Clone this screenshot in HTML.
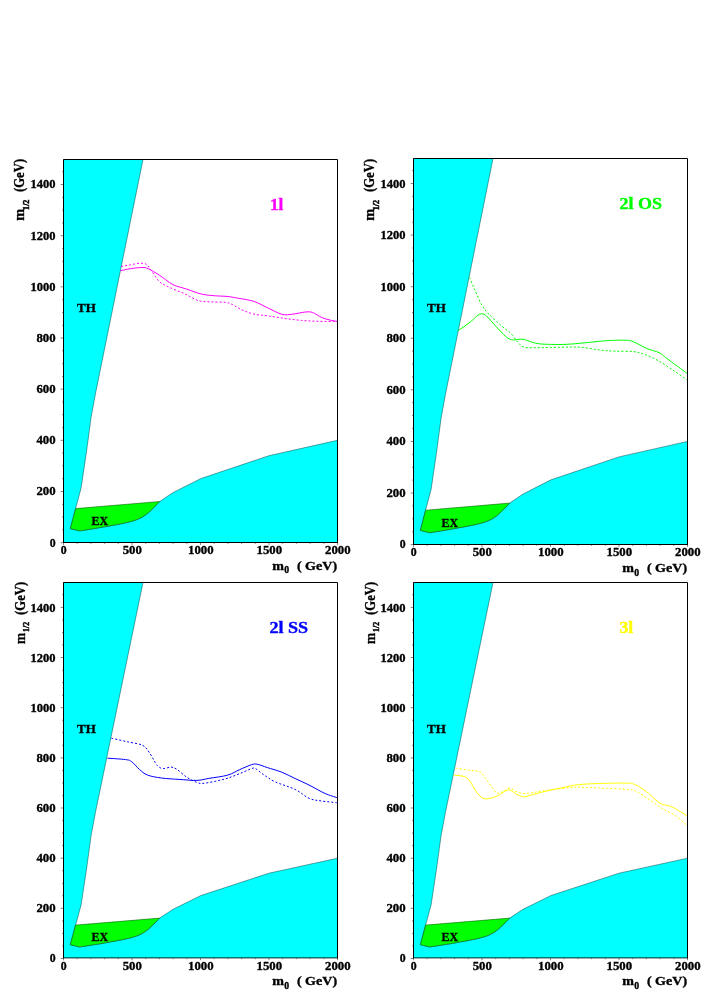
<!DOCTYPE html>
<html><head><meta charset="utf-8"><title>Figure</title>
<style>html,body{margin:0;padding:0;background:#fff;}body{width:707px;height:1007px;overflow:hidden;font-family:"Liberation Serif",serif;}svg{display:block;will-change:transform;}</style>
</head><body>
<svg width="707" height="1007" viewBox="0 0 707 1007">
<rect width="707" height="1007" fill="#fff"/>
<g>
<polygon points="63.5,542.5 63.5,159.5 143.0,159.5 95.4,393.9 91.0,417.8 86.7,450.2 81.1,488.0 75.6,508.6 70.3,528.6 79.7,530.9 82.4,530.5 86.0,529.9 90.4,529.2 95.2,528.4 100.0,527.6 104.6,526.8 109.2,526.0 114.0,525.1 119.0,524.2 123.8,523.2 128.2,522.2 132.0,521.2 135.1,520.2 137.7,519.3 139.9,518.3 141.9,517.3 143.9,516.0 146.1,514.5 148.6,512.6 151.2,510.2 153.8,507.6 156.2,505.1 158.2,503.0 159.7,501.5 173.1,492.5 201.0,478.5 269.0,455.7 337.5,440.3 337.5,542.5" fill="#00ffff" stroke="#044" stroke-width="0.5"/>
<polygon points="75.6,508.6 159.7,501.5 158.2,503.0 156.2,505.1 153.8,507.6 151.2,510.2 148.6,512.6 146.1,514.5 143.9,516.0 141.9,517.3 139.9,518.3 137.7,519.3 135.1,520.2 132.0,521.2 128.2,522.2 123.8,523.2 119.0,524.2 114.0,525.1 109.2,526.0 104.6,526.8 100.0,527.6 95.2,528.4 90.4,529.2 86.0,529.9 82.4,530.5 79.7,530.9 70.3,528.6" fill="#00ff00" stroke="#040" stroke-width="0.5"/>
<path d="M120.5 270.7 C122.2 270.4 126.8 269.2 130.4 268.7 C134.0 268.2 139.2 267.5 142.2 267.5 C145.2 267.5 145.4 267.4 148.2 268.7 C151.0 270.0 155.1 272.5 159.2 275.1 C163.3 277.7 168.3 282.2 172.8 284.5 C177.3 286.8 181.6 287.4 186.4 289.0 C191.2 290.6 196.8 293.0 201.6 294.1 C206.4 295.2 211.0 295.4 215.2 295.8 C219.4 296.2 223.1 296.0 227.0 296.4 C230.9 296.8 234.1 297.5 238.6 298.3 C243.1 299.1 249.1 299.8 253.9 301.4 C258.7 303.0 262.7 305.5 267.4 307.7 C272.1 309.9 277.6 313.2 281.9 314.3 C286.1 315.4 289.1 314.5 292.9 314.1 C296.7 313.7 301.6 312.4 304.8 312.1 C308.1 311.8 309.6 311.5 312.4 312.4 C315.2 313.3 318.7 316.2 321.7 317.5 C324.7 318.8 327.6 319.5 330.2 320.1 C332.8 320.8 336.2 321.2 337.4 321.4" fill="none" stroke="#ff00ff" stroke-width="1"/>
<path d="M121.2 266.5 C122.7 266.2 127.2 265.4 130.4 264.8 C133.6 264.2 137.8 263.3 140.5 263.2 C143.2 263.1 144.8 263.3 146.5 264.4 C148.2 265.4 148.6 266.7 150.7 269.5 C152.8 272.3 156.1 278.4 159.2 281.4 C162.3 284.4 165.2 285.2 169.4 287.3 C173.7 289.4 179.9 291.6 184.7 293.8 C189.5 296.0 193.8 299.2 198.3 300.6 C202.8 302.0 207.4 301.6 211.8 301.9 C216.2 302.2 221.7 301.9 225.0 302.3 C228.3 302.7 229.0 303.0 231.8 304.3 C234.6 305.6 238.3 308.3 242.0 309.9 C245.7 311.5 249.7 313.1 253.9 314.1 C258.1 315.1 262.3 315.1 267.4 315.8 C272.5 316.5 278.7 317.6 284.4 318.4 C290.1 319.2 295.8 319.9 301.4 320.4 C307.0 320.9 312.3 321.1 318.3 321.3 C324.3 321.5 334.2 321.3 337.4 321.3" fill="none" stroke="#ff00ff" stroke-width="1" stroke-dasharray="2 2"/>
<path d="M60.7 542.7 h2.4 M62.1 529.9 h1.0 M62.1 517.1 h1.0 M62.1 504.3 h1.0 M60.7 491.5 h2.4 M62.1 478.7 h1.0 M62.1 465.9 h1.0 M62.1 453.1 h1.0 M60.7 440.3 h2.4 M62.1 427.5 h1.0 M62.1 414.7 h1.0 M62.1 402.0 h1.0 M60.7 389.2 h2.4 M62.1 376.4 h1.0 M62.1 363.6 h1.0 M62.1 350.8 h1.0 M60.7 338.0 h2.4 M62.1 325.2 h1.0 M62.1 312.4 h1.0 M62.1 299.6 h1.0 M60.7 286.8 h2.4 M62.1 274.0 h1.0 M62.1 261.2 h1.0 M62.1 248.4 h1.0 M60.7 235.7 h2.4 M62.1 222.9 h1.0 M62.1 210.1 h1.0 M62.1 197.3 h1.0 M60.7 184.5 h2.4 M62.1 171.7 h1.0 M63.5 542.9 v2.0 M77.2 542.9 v1.0 M90.9 542.9 v1.0 M104.6 542.9 v1.0 M118.3 542.9 v1.0 M132.0 542.9 v2.0 M145.7 542.9 v1.0 M159.4 542.9 v1.0 M173.1 542.9 v1.0 M186.8 542.9 v1.0 M200.5 542.9 v2.0 M214.2 542.9 v1.0 M227.9 542.9 v1.0 M241.6 542.9 v1.0 M255.3 542.9 v1.0 M269.0 542.9 v2.0 M282.7 542.9 v1.0 M296.4 542.9 v1.0 M310.1 542.9 v1.0 M323.8 542.9 v1.0 M337.5 542.9 v2.0" stroke="#333" stroke-width="0.6" fill="none"/>
<path d="M63.5 542.50 V159.50 H337.5 V542.50" fill="none" stroke="#000" stroke-width="1" stroke-linecap="square"/>
<path d="M63.0 542.50 H338.0" fill="none" stroke="#000" stroke-width="1.00"/>
<text x="55.6" y="546.5" font-family="Liberation Serif, serif" font-weight="bold" stroke="#000" stroke-width="0.35" paint-order="stroke" font-size="12.6" text-anchor="end" textLength="5.9" lengthAdjust="spacingAndGlyphs">0</text>
<text x="55.6" y="495.4" font-family="Liberation Serif, serif" font-weight="bold" stroke="#000" stroke-width="0.35" paint-order="stroke" font-size="12.6" text-anchor="end" textLength="19.2" lengthAdjust="spacingAndGlyphs">200</text>
<text x="55.6" y="444.2" font-family="Liberation Serif, serif" font-weight="bold" stroke="#000" stroke-width="0.35" paint-order="stroke" font-size="12.6" text-anchor="end" textLength="19.2" lengthAdjust="spacingAndGlyphs">400</text>
<text x="55.6" y="393.0" font-family="Liberation Serif, serif" font-weight="bold" stroke="#000" stroke-width="0.35" paint-order="stroke" font-size="12.6" text-anchor="end" textLength="19.2" lengthAdjust="spacingAndGlyphs">600</text>
<text x="55.6" y="341.9" font-family="Liberation Serif, serif" font-weight="bold" stroke="#000" stroke-width="0.35" paint-order="stroke" font-size="12.6" text-anchor="end" textLength="19.2" lengthAdjust="spacingAndGlyphs">800</text>
<text x="55.6" y="290.7" font-family="Liberation Serif, serif" font-weight="bold" stroke="#000" stroke-width="0.35" paint-order="stroke" font-size="12.6" text-anchor="end" textLength="25.0" lengthAdjust="spacingAndGlyphs">1000</text>
<text x="55.6" y="239.5" font-family="Liberation Serif, serif" font-weight="bold" stroke="#000" stroke-width="0.35" paint-order="stroke" font-size="12.6" text-anchor="end" textLength="25.0" lengthAdjust="spacingAndGlyphs">1200</text>
<text x="55.6" y="188.4" font-family="Liberation Serif, serif" font-weight="bold" stroke="#000" stroke-width="0.35" paint-order="stroke" font-size="12.6" text-anchor="end" textLength="25.0" lengthAdjust="spacingAndGlyphs">1400</text>
<text x="63.8" y="553.6" font-family="Liberation Serif, serif" font-weight="bold" stroke="#000" stroke-width="0.35" paint-order="stroke" font-size="12.6" text-anchor="middle" textLength="5.9" lengthAdjust="spacingAndGlyphs">0</text>
<text x="132.3" y="553.6" font-family="Liberation Serif, serif" font-weight="bold" stroke="#000" stroke-width="0.35" paint-order="stroke" font-size="12.6" text-anchor="middle" textLength="19.2" lengthAdjust="spacingAndGlyphs">500</text>
<text x="200.8" y="553.6" font-family="Liberation Serif, serif" font-weight="bold" stroke="#000" stroke-width="0.35" paint-order="stroke" font-size="12.6" text-anchor="middle" textLength="25.6" lengthAdjust="spacingAndGlyphs">1000</text>
<text x="269.3" y="553.6" font-family="Liberation Serif, serif" font-weight="bold" stroke="#000" stroke-width="0.35" paint-order="stroke" font-size="12.6" text-anchor="middle" textLength="25.6" lengthAdjust="spacingAndGlyphs">1500</text>
<text x="337.8" y="553.6" font-family="Liberation Serif, serif" font-weight="bold" stroke="#000" stroke-width="0.35" paint-order="stroke" font-size="12.6" text-anchor="middle" textLength="25.6" lengthAdjust="spacingAndGlyphs">2000</text>
<text x="272.2" y="569.7" font-family="Liberation Serif, serif" font-weight="bold" stroke="#000" stroke-width="0.35" paint-order="stroke" font-size="12.6" textLength="11.7" lengthAdjust="spacingAndGlyphs">m</text>
<text x="284.3" y="573.1" font-family="Liberation Serif, serif" font-weight="bold" stroke="#000" stroke-width="0.35" paint-order="stroke" font-size="9.4" textLength="4.9" lengthAdjust="spacingAndGlyphs">0</text>
<text x="337.1" y="569.7" font-family="Liberation Serif, serif" font-weight="bold" stroke="#000" stroke-width="0.35" paint-order="stroke" font-size="12.6" text-anchor="end" textLength="40.2" lengthAdjust="spacingAndGlyphs">( GeV)</text>
<g transform="translate(24.2 158.9) rotate(-90)">
<text x="-61.8" y="0" font-family="Liberation Serif, serif" font-weight="bold" stroke="#000" stroke-width="0.35" paint-order="stroke" font-size="15.2" textLength="12.0" lengthAdjust="spacingAndGlyphs">m</text>
<text x="-51.0" y="5.0" font-family="Liberation Serif, serif" font-weight="bold" stroke="#000" stroke-width="0.35" paint-order="stroke" font-size="8.3" style="stroke-width:0.45" textLength="10.3" lengthAdjust="spacingAndGlyphs">1/2</text>
<text x="0" y="0" font-family="Liberation Serif, serif" font-weight="bold" stroke="#000" stroke-width="0.35" paint-order="stroke" font-size="15.2" text-anchor="end" textLength="33.1" lengthAdjust="spacingAndGlyphs">(GeV)</text>
</g>
<text x="77.0" y="312.3" font-family="Liberation Serif, serif" font-weight="bold" stroke="#000" stroke-width="0.35" paint-order="stroke" font-size="12.6" textLength="18.8" lengthAdjust="spacingAndGlyphs">TH</text>
<text x="91.6" y="524.7" font-family="Liberation Serif, serif" font-weight="bold" stroke="#000" stroke-width="0.35" paint-order="stroke" font-size="12.6" textLength="16.6" lengthAdjust="spacingAndGlyphs">EX</text>
<text x="270.0" y="209.6" font-family="Liberation Serif, serif" font-weight="bold" stroke="#000" stroke-width="0.35" paint-order="stroke" font-size="17" fill="#ff00ff" style="stroke:#ff00ff" textLength="13.4" lengthAdjust="spacingAndGlyphs">1l</text>
</g>
<g>
<polygon points="413.5,544.5 413.5,158.5 493.0,158.5 445.4,394.6 441.0,418.7 436.7,451.3 431.1,489.4 425.6,510.2 420.4,530.4 429.7,532.7 432.4,532.3 436.0,531.7 440.4,531.0 445.2,530.2 450.0,529.4 454.6,528.6 459.2,527.7 464.0,526.9 469.0,525.9 473.8,524.9 478.2,523.9 482.0,522.9 485.1,521.9 487.7,521.0 489.9,520.0 491.9,519.0 493.9,517.7 496.1,516.2 498.6,514.2 501.2,511.8 503.8,509.2 506.2,506.7 508.2,504.6 509.7,503.1 523.1,494.0 551.0,479.8 619.0,456.9 687.5,441.4 687.5,544.5" fill="#00ffff" stroke="#044" stroke-width="0.5"/>
<polygon points="425.6,510.2 509.7,503.1 508.2,504.6 506.2,506.7 503.8,509.2 501.2,511.8 498.6,514.2 496.1,516.2 493.9,517.7 491.9,519.0 489.9,520.0 487.7,521.0 485.1,521.9 482.0,522.9 478.2,523.9 473.8,524.9 469.0,525.9 464.0,526.9 459.2,527.7 454.6,528.6 450.0,529.4 445.2,530.2 440.4,531.0 436.0,531.7 432.4,532.3 429.7,532.7 420.4,530.4" fill="#00ff00" stroke="#040" stroke-width="0.5"/>
<path d="M458.5 330.4 C460.5 329.0 467.1 324.4 470.4 321.9 C473.6 319.4 476.0 316.5 478.0 315.2 C480.0 313.9 480.8 313.7 482.2 313.8 C483.6 313.9 484.2 313.9 486.5 316.0 C488.8 318.1 492.6 322.8 495.8 326.2 C499.1 329.6 503.3 334.4 506.0 336.7 C508.7 339.0 509.9 339.4 511.9 339.8 C513.9 340.2 515.9 339.5 517.9 339.4 C519.9 339.3 521.8 338.9 523.8 339.3 C525.8 339.7 527.4 340.8 529.8 341.5 C532.2 342.2 534.6 343.2 538.3 343.7 C542.0 344.2 547.3 344.3 551.8 344.4 C556.2 344.5 560.3 344.6 565.0 344.4 C569.7 344.2 574.0 343.8 579.8 343.3 C585.6 342.8 594.0 341.8 599.6 341.3 C605.2 340.8 609.0 340.5 613.5 340.3 C618.0 340.1 623.0 340.1 626.3 340.3 C629.6 340.5 629.8 340.3 633.3 341.7 C636.8 343.1 642.8 346.8 647.1 348.6 C651.4 350.4 655.7 351.0 659.0 352.6 C662.3 354.2 662.2 355.0 666.9 358.5 C671.6 362.0 683.7 370.9 687.1 373.4" fill="none" stroke="#00ff00" stroke-width="1"/>
<path d="M469.5 277.5 C470.5 279.8 473.4 286.7 475.5 291.4 C477.6 296.1 479.9 302.0 482.2 305.8 C484.4 309.6 485.9 311.1 489.0 314.3 C492.1 317.6 497.2 322.1 500.9 325.3 C504.6 328.6 508.3 331.0 511.1 333.8 C513.9 336.6 515.8 340.1 517.9 342.3 C520.0 344.5 521.0 346.2 523.8 347.1 C526.6 348.0 528.9 347.7 534.9 347.7 C540.9 347.7 552.5 347.4 560.0 347.3 C567.5 347.2 573.2 346.8 579.8 347.2 C586.4 347.6 593.7 349.3 599.6 350.0 C605.5 350.7 609.8 350.9 615.4 351.2 C621.0 351.5 628.3 351.0 633.3 351.6 C638.2 352.2 640.8 353.0 645.1 354.6 C649.4 356.2 654.0 358.3 659.0 361.1 C664.0 363.9 670.3 368.3 674.9 371.4 C679.5 374.5 684.7 378.3 686.7 379.7" fill="none" stroke="#00ff00" stroke-width="1" stroke-dasharray="2 2"/>
<path d="M410.7 544.6 h2.4 M412.1 531.7 h1.0 M412.1 518.8 h1.0 M412.1 505.9 h1.0 M410.7 493.0 h2.4 M412.1 480.1 h1.0 M412.1 467.2 h1.0 M412.1 454.3 h1.0 M410.7 441.4 h2.4 M412.1 428.5 h1.0 M412.1 415.6 h1.0 M412.1 402.7 h1.0 M410.7 389.8 h2.4 M412.1 376.9 h1.0 M412.1 364.0 h1.0 M412.1 351.1 h1.0 M410.7 338.2 h2.4 M412.1 325.3 h1.0 M412.1 312.5 h1.0 M412.1 299.6 h1.0 M410.7 286.7 h2.4 M412.1 273.8 h1.0 M412.1 260.9 h1.0 M412.1 248.0 h1.0 M410.7 235.1 h2.4 M412.1 222.2 h1.0 M412.1 209.3 h1.0 M412.1 196.4 h1.0 M410.7 183.5 h2.4 M412.1 170.6 h1.0 M413.5 544.9 v2.0 M427.2 544.9 v1.0 M440.9 544.9 v1.0 M454.6 544.9 v1.0 M468.3 544.9 v1.0 M482.0 544.9 v2.0 M495.7 544.9 v1.0 M509.4 544.9 v1.0 M523.1 544.9 v1.0 M536.8 544.9 v1.0 M550.5 544.9 v2.0 M564.2 544.9 v1.0 M577.9 544.9 v1.0 M591.6 544.9 v1.0 M605.3 544.9 v1.0 M619.0 544.9 v2.0 M632.7 544.9 v1.0 M646.4 544.9 v1.0 M660.1 544.9 v1.0 M673.8 544.9 v1.0 M687.5 544.9 v2.0" stroke="#333" stroke-width="0.6" fill="none"/>
<path d="M413.5 544.50 V158.50 H687.5 V544.50" fill="none" stroke="#000" stroke-width="1" stroke-linecap="square"/>
<path d="M413.0 544.50 H688.0" fill="none" stroke="#000" stroke-width="1.00"/>
<text x="405.6" y="548.2" font-family="Liberation Serif, serif" font-weight="bold" stroke="#000" stroke-width="0.35" paint-order="stroke" font-size="12.6" text-anchor="end" textLength="5.9" lengthAdjust="spacingAndGlyphs">0</text>
<text x="405.6" y="496.8" font-family="Liberation Serif, serif" font-weight="bold" stroke="#000" stroke-width="0.35" paint-order="stroke" font-size="12.6" text-anchor="end" textLength="19.2" lengthAdjust="spacingAndGlyphs">200</text>
<text x="405.6" y="445.2" font-family="Liberation Serif, serif" font-weight="bold" stroke="#000" stroke-width="0.35" paint-order="stroke" font-size="12.6" text-anchor="end" textLength="19.2" lengthAdjust="spacingAndGlyphs">400</text>
<text x="405.6" y="393.8" font-family="Liberation Serif, serif" font-weight="bold" stroke="#000" stroke-width="0.35" paint-order="stroke" font-size="12.6" text-anchor="end" textLength="19.2" lengthAdjust="spacingAndGlyphs">600</text>
<text x="405.6" y="342.2" font-family="Liberation Serif, serif" font-weight="bold" stroke="#000" stroke-width="0.35" paint-order="stroke" font-size="12.6" text-anchor="end" textLength="19.2" lengthAdjust="spacingAndGlyphs">800</text>
<text x="405.6" y="290.8" font-family="Liberation Serif, serif" font-weight="bold" stroke="#000" stroke-width="0.35" paint-order="stroke" font-size="12.6" text-anchor="end" textLength="25.0" lengthAdjust="spacingAndGlyphs">1000</text>
<text x="405.6" y="239.2" font-family="Liberation Serif, serif" font-weight="bold" stroke="#000" stroke-width="0.35" paint-order="stroke" font-size="12.6" text-anchor="end" textLength="25.0" lengthAdjust="spacingAndGlyphs">1200</text>
<text x="405.6" y="187.8" font-family="Liberation Serif, serif" font-weight="bold" stroke="#000" stroke-width="0.35" paint-order="stroke" font-size="12.6" text-anchor="end" textLength="25.0" lengthAdjust="spacingAndGlyphs">1400</text>
<text x="413.8" y="556.3" font-family="Liberation Serif, serif" font-weight="bold" stroke="#000" stroke-width="0.35" paint-order="stroke" font-size="12.6" text-anchor="middle" textLength="5.9" lengthAdjust="spacingAndGlyphs">0</text>
<text x="482.3" y="556.3" font-family="Liberation Serif, serif" font-weight="bold" stroke="#000" stroke-width="0.35" paint-order="stroke" font-size="12.6" text-anchor="middle" textLength="19.2" lengthAdjust="spacingAndGlyphs">500</text>
<text x="550.8" y="556.3" font-family="Liberation Serif, serif" font-weight="bold" stroke="#000" stroke-width="0.35" paint-order="stroke" font-size="12.6" text-anchor="middle" textLength="25.6" lengthAdjust="spacingAndGlyphs">1000</text>
<text x="619.3" y="556.3" font-family="Liberation Serif, serif" font-weight="bold" stroke="#000" stroke-width="0.35" paint-order="stroke" font-size="12.6" text-anchor="middle" textLength="25.6" lengthAdjust="spacingAndGlyphs">1500</text>
<text x="687.8" y="556.3" font-family="Liberation Serif, serif" font-weight="bold" stroke="#000" stroke-width="0.35" paint-order="stroke" font-size="12.6" text-anchor="middle" textLength="25.6" lengthAdjust="spacingAndGlyphs">2000</text>
<text x="622.2" y="572.1" font-family="Liberation Serif, serif" font-weight="bold" stroke="#000" stroke-width="0.35" paint-order="stroke" font-size="12.6" textLength="11.7" lengthAdjust="spacingAndGlyphs">m</text>
<text x="634.3" y="575.6" font-family="Liberation Serif, serif" font-weight="bold" stroke="#000" stroke-width="0.35" paint-order="stroke" font-size="9.4" textLength="4.9" lengthAdjust="spacingAndGlyphs">0</text>
<text x="687.1" y="572.1" font-family="Liberation Serif, serif" font-weight="bold" stroke="#000" stroke-width="0.35" paint-order="stroke" font-size="12.6" text-anchor="end" textLength="40.2" lengthAdjust="spacingAndGlyphs">( GeV)</text>
<g transform="translate(374.2 158.9) rotate(-90)">
<text x="-61.8" y="0" font-family="Liberation Serif, serif" font-weight="bold" stroke="#000" stroke-width="0.35" paint-order="stroke" font-size="15.2" textLength="12.0" lengthAdjust="spacingAndGlyphs">m</text>
<text x="-51.4" y="5.0" font-family="Liberation Serif, serif" font-weight="bold" stroke="#000" stroke-width="0.35" paint-order="stroke" font-size="8.3" style="stroke-width:0.45" textLength="10.4" lengthAdjust="spacingAndGlyphs">1/2</text>
<text x="0" y="0" font-family="Liberation Serif, serif" font-weight="bold" stroke="#000" stroke-width="0.35" paint-order="stroke" font-size="15.2" text-anchor="end" textLength="33.1" lengthAdjust="spacingAndGlyphs">(GeV)</text>
</g>
<text x="427.0" y="312.3" font-family="Liberation Serif, serif" font-weight="bold" stroke="#000" stroke-width="0.35" paint-order="stroke" font-size="12.6" textLength="18.8" lengthAdjust="spacingAndGlyphs">TH</text>
<text x="441.6" y="526.5" font-family="Liberation Serif, serif" font-weight="bold" stroke="#000" stroke-width="0.35" paint-order="stroke" font-size="12.6" textLength="16.6" lengthAdjust="spacingAndGlyphs">EX</text>
<text x="619.4" y="209.4" font-family="Liberation Serif, serif" font-weight="bold" stroke="#000" stroke-width="0.35" paint-order="stroke" font-size="17" fill="#00ff00" style="stroke:#00ff00" textLength="42.6" lengthAdjust="spacingAndGlyphs">2l OS</text>
</g>
<g>
<polygon points="63.5,957.9 63.5,582.5 143.0,582.5 95.4,812.6 91.0,836.1 86.7,867.8 81.1,904.9 75.6,925.1 70.3,944.7 79.7,947.0 82.4,946.5 86.0,946.0 90.4,945.3 95.2,944.5 100.0,943.8 104.6,943.0 109.2,942.1 114.0,941.3 119.0,940.3 123.8,939.4 128.2,938.4 132.0,937.4 135.1,936.5 137.7,935.6 139.9,934.6 141.9,933.6 143.9,932.4 146.1,930.9 148.6,929.0 151.2,926.6 153.8,924.1 156.2,921.7 158.2,919.6 159.7,918.1 173.1,909.3 201.0,895.5 269.0,873.2 337.5,858.2 337.5,957.9" fill="#00ffff" stroke="#044" stroke-width="0.5"/>
<polygon points="75.6,925.1 159.7,918.1 158.2,919.6 156.2,921.7 153.8,924.1 151.2,926.6 148.6,929.0 146.1,930.9 143.9,932.4 141.9,933.6 139.9,934.6 137.7,935.6 135.1,936.5 132.0,937.4 128.2,938.4 123.8,939.4 119.0,940.3 114.0,941.3 109.2,942.1 104.6,943.0 100.0,943.8 95.2,944.5 90.4,945.3 86.0,946.0 82.4,946.5 79.7,947.0 70.3,944.7" fill="#00ff00" stroke="#040" stroke-width="0.5"/>
<path d="M107.4 758.2 C110.4 758.4 121.6 759.0 125.6 759.6 C129.6 760.2 129.3 760.0 131.6 761.6 C133.9 763.2 136.9 767.3 139.5 769.5 C142.1 771.7 143.8 773.6 147.4 775.0 C151.0 776.4 156.0 777.3 161.3 778.0 C166.6 778.7 173.2 779.0 179.1 779.4 C185.0 779.8 191.9 780.6 196.9 780.4 C201.9 780.2 203.7 779.3 208.8 778.4 C214.0 777.5 222.7 776.6 227.8 775.1 C233.0 773.6 235.7 771.3 239.7 769.6 C243.7 767.9 248.6 765.6 251.6 764.7 C254.6 763.8 254.9 763.8 257.5 764.3 C260.1 764.8 263.4 766.3 267.4 767.6 C271.4 768.9 276.7 770.2 281.3 772.0 C285.9 773.8 290.5 776.3 295.1 778.5 C299.7 780.7 304.0 782.5 309.0 785.0 C314.0 787.5 320.2 791.3 324.9 793.4 C329.6 795.5 335.1 797.0 337.1 797.7" fill="none" stroke="#0000ff" stroke-width="1"/>
<path d="M111.4 738.2 C114.1 738.8 122.4 740.6 127.6 741.8 C132.8 743.0 138.9 743.5 142.5 745.3 C146.1 747.1 146.9 749.3 149.4 752.7 C151.9 756.1 155.0 762.9 157.3 765.5 C159.6 768.1 161.0 768.2 163.3 768.5 C165.6 768.8 168.9 766.9 171.2 767.1 C173.5 767.3 174.5 767.8 177.1 769.5 C179.7 771.2 183.7 775.2 187.0 777.4 C190.3 779.5 194.2 781.4 196.9 782.4 C199.6 783.4 199.6 783.6 202.9 783.4 C206.2 783.2 212.5 781.9 216.7 781.0 C220.8 780.1 224.0 779.3 227.8 778.1 C231.6 776.9 235.7 775.2 239.7 773.6 C243.7 772.0 249.0 769.4 251.6 768.6 C254.2 767.8 253.5 767.6 255.5 768.6 C257.5 769.6 260.2 772.4 263.5 774.6 C266.8 776.8 270.0 779.4 275.3 781.9 C280.6 784.4 289.5 786.7 295.1 789.4 C300.7 792.1 304.7 796.4 309.0 798.3 C313.3 800.2 316.3 800.2 320.9 800.9 C325.5 801.6 334.1 802.4 336.7 802.7" fill="none" stroke="#0000ff" stroke-width="1" stroke-dasharray="2 2"/>
<path d="M60.7 958.5 h2.4 M62.1 946.0 h1.0 M62.1 933.4 h1.0 M62.1 920.9 h1.0 M60.7 908.3 h2.4 M62.1 895.8 h1.0 M62.1 883.3 h1.0 M62.1 870.7 h1.0 M60.7 858.2 h2.4 M62.1 845.6 h1.0 M62.1 833.1 h1.0 M62.1 820.6 h1.0 M60.7 808.0 h2.4 M62.1 795.5 h1.0 M62.1 782.9 h1.0 M62.1 770.4 h1.0 M60.7 757.9 h2.4 M62.1 745.3 h1.0 M62.1 732.8 h1.0 M62.1 720.2 h1.0 M60.7 707.7 h2.4 M62.1 695.2 h1.0 M62.1 682.6 h1.0 M62.1 670.1 h1.0 M60.7 657.5 h2.4 M62.1 645.0 h1.0 M62.1 632.5 h1.0 M62.1 619.9 h1.0 M60.7 607.4 h2.4 M62.1 594.8 h1.0 M63.5 958.2 v2.0 M77.2 958.2 v1.0 M90.9 958.2 v1.0 M104.6 958.2 v1.0 M118.3 958.2 v1.0 M132.0 958.2 v2.0 M145.7 958.2 v1.0 M159.4 958.2 v1.0 M173.1 958.2 v1.0 M186.8 958.2 v1.0 M200.5 958.2 v2.0 M214.2 958.2 v1.0 M227.9 958.2 v1.0 M241.6 958.2 v1.0 M255.3 958.2 v1.0 M269.0 958.2 v2.0 M282.7 958.2 v1.0 M296.4 958.2 v1.0 M310.1 958.2 v1.0 M323.8 958.2 v1.0 M337.5 958.2 v2.0" stroke="#333" stroke-width="0.6" fill="none"/>
<path d="M63.5 957.85 V582.50 H337.5 V957.85" fill="none" stroke="#000" stroke-width="1" stroke-linecap="square"/>
<path d="M63.0 957.85 H338.0" fill="none" stroke="#000" stroke-width="0.60"/>
<text x="55.6" y="961.9" font-family="Liberation Serif, serif" font-weight="bold" stroke="#000" stroke-width="0.35" paint-order="stroke" font-size="12.3" text-anchor="end" textLength="5.9" lengthAdjust="spacingAndGlyphs">0</text>
<text x="55.6" y="911.9" font-family="Liberation Serif, serif" font-weight="bold" stroke="#000" stroke-width="0.35" paint-order="stroke" font-size="12.3" text-anchor="end" textLength="19.2" lengthAdjust="spacingAndGlyphs">200</text>
<text x="55.6" y="861.9" font-family="Liberation Serif, serif" font-weight="bold" stroke="#000" stroke-width="0.35" paint-order="stroke" font-size="12.3" text-anchor="end" textLength="19.2" lengthAdjust="spacingAndGlyphs">400</text>
<text x="55.6" y="811.9" font-family="Liberation Serif, serif" font-weight="bold" stroke="#000" stroke-width="0.35" paint-order="stroke" font-size="12.3" text-anchor="end" textLength="19.2" lengthAdjust="spacingAndGlyphs">600</text>
<text x="55.6" y="761.8" font-family="Liberation Serif, serif" font-weight="bold" stroke="#000" stroke-width="0.35" paint-order="stroke" font-size="12.3" text-anchor="end" textLength="19.2" lengthAdjust="spacingAndGlyphs">800</text>
<text x="55.6" y="711.8" font-family="Liberation Serif, serif" font-weight="bold" stroke="#000" stroke-width="0.35" paint-order="stroke" font-size="12.3" text-anchor="end" textLength="25.0" lengthAdjust="spacingAndGlyphs">1000</text>
<text x="55.6" y="661.8" font-family="Liberation Serif, serif" font-weight="bold" stroke="#000" stroke-width="0.35" paint-order="stroke" font-size="12.3" text-anchor="end" textLength="25.0" lengthAdjust="spacingAndGlyphs">1200</text>
<text x="55.6" y="611.8" font-family="Liberation Serif, serif" font-weight="bold" stroke="#000" stroke-width="0.35" paint-order="stroke" font-size="12.3" text-anchor="end" textLength="25.0" lengthAdjust="spacingAndGlyphs">1400</text>
<text x="63.8" y="969.5" font-family="Liberation Serif, serif" font-weight="bold" stroke="#000" stroke-width="0.35" paint-order="stroke" font-size="12.3" text-anchor="middle" textLength="5.9" lengthAdjust="spacingAndGlyphs">0</text>
<text x="132.3" y="969.5" font-family="Liberation Serif, serif" font-weight="bold" stroke="#000" stroke-width="0.35" paint-order="stroke" font-size="12.3" text-anchor="middle" textLength="19.2" lengthAdjust="spacingAndGlyphs">500</text>
<text x="200.8" y="969.5" font-family="Liberation Serif, serif" font-weight="bold" stroke="#000" stroke-width="0.35" paint-order="stroke" font-size="12.3" text-anchor="middle" textLength="25.6" lengthAdjust="spacingAndGlyphs">1000</text>
<text x="269.3" y="969.5" font-family="Liberation Serif, serif" font-weight="bold" stroke="#000" stroke-width="0.35" paint-order="stroke" font-size="12.3" text-anchor="middle" textLength="25.6" lengthAdjust="spacingAndGlyphs">1500</text>
<text x="337.8" y="969.5" font-family="Liberation Serif, serif" font-weight="bold" stroke="#000" stroke-width="0.35" paint-order="stroke" font-size="12.3" text-anchor="middle" textLength="25.6" lengthAdjust="spacingAndGlyphs">2000</text>
<text x="272.2" y="984.7" font-family="Liberation Serif, serif" font-weight="bold" stroke="#000" stroke-width="0.35" paint-order="stroke" font-size="12.3" textLength="11.7" lengthAdjust="spacingAndGlyphs">m</text>
<text x="284.3" y="988.6" font-family="Liberation Serif, serif" font-weight="bold" stroke="#000" stroke-width="0.35" paint-order="stroke" font-size="9.4" textLength="4.9" lengthAdjust="spacingAndGlyphs">0</text>
<text x="337.1" y="984.7" font-family="Liberation Serif, serif" font-weight="bold" stroke="#000" stroke-width="0.35" paint-order="stroke" font-size="12.3" text-anchor="end" textLength="40.2" lengthAdjust="spacingAndGlyphs">( GeV)</text>
<g transform="translate(24.8 581.9) rotate(-90)">
<text x="-62.0" y="0" font-family="Liberation Serif, serif" font-weight="bold" stroke="#000" stroke-width="0.35" paint-order="stroke" font-size="15.2" textLength="11.2" lengthAdjust="spacingAndGlyphs">m</text>
<text x="-50.0" y="4.4" font-family="Liberation Serif, serif" font-weight="bold" stroke="#000" stroke-width="0.35" paint-order="stroke" font-size="8.3" style="stroke-width:0.45" textLength="10.1" lengthAdjust="spacingAndGlyphs">1/2</text>
<text x="0" y="0" font-family="Liberation Serif, serif" font-weight="bold" stroke="#000" stroke-width="0.35" paint-order="stroke" font-size="15.2" text-anchor="end" textLength="33.0" lengthAdjust="spacingAndGlyphs">(GeV)</text>
</g>
<text x="77.0" y="732.6" font-family="Liberation Serif, serif" font-weight="bold" stroke="#000" stroke-width="0.35" paint-order="stroke" font-size="12.6" textLength="18.8" lengthAdjust="spacingAndGlyphs">TH</text>
<text x="91.6" y="940.9" font-family="Liberation Serif, serif" font-weight="bold" stroke="#000" stroke-width="0.35" paint-order="stroke" font-size="12.6" textLength="16.6" lengthAdjust="spacingAndGlyphs">EX</text>
<text x="269.4" y="632.5" font-family="Liberation Serif, serif" font-weight="bold" stroke="#000" stroke-width="0.35" paint-order="stroke" font-size="17" fill="#0000ff" style="stroke:#0000ff" textLength="38.8" lengthAdjust="spacingAndGlyphs">2l SS</text>
</g>
<g>
<polygon points="413.5,957.9 413.5,582.5 493.0,582.5 445.4,812.6 441.0,836.1 436.7,867.8 431.1,904.9 425.6,925.1 420.4,944.7 429.7,947.0 432.4,946.5 436.0,946.0 440.4,945.3 445.2,944.5 450.0,943.8 454.6,943.0 459.2,942.1 464.0,941.3 469.0,940.3 473.8,939.4 478.2,938.4 482.0,937.4 485.1,936.5 487.7,935.6 489.9,934.6 491.9,933.6 493.9,932.4 496.1,930.9 498.6,929.0 501.2,926.6 503.8,924.1 506.2,921.7 508.2,919.6 509.7,918.1 523.1,909.3 551.0,895.5 619.0,873.2 687.5,858.2 687.5,957.9" fill="#00ffff" stroke="#044" stroke-width="0.5"/>
<polygon points="425.6,925.1 509.7,918.1 508.2,919.6 506.2,921.7 503.8,924.1 501.2,926.6 498.6,929.0 496.1,930.9 493.9,932.4 491.9,933.6 489.9,934.6 487.7,935.6 485.1,936.5 482.0,937.4 478.2,938.4 473.8,939.4 469.0,940.3 464.0,941.3 459.2,942.1 454.6,943.0 450.0,943.8 445.2,944.5 440.4,945.3 436.0,946.0 432.4,946.5 429.7,947.0 420.4,944.7" fill="#00ff00" stroke="#040" stroke-width="0.5"/>
<path d="M453.8 775.2 C455.3 775.4 460.2 775.5 462.7 776.2 C465.2 776.9 466.5 777.2 468.6 779.6 C470.7 782.0 473.4 787.5 475.5 790.5 C477.6 793.5 479.5 796.0 481.5 797.4 C483.5 798.8 484.8 799.0 487.4 798.8 C490.0 798.6 494.3 797.3 497.3 796.0 C500.3 794.7 503.1 792.1 505.2 791.1 C507.3 790.1 508.2 789.5 510.2 790.1 C512.2 790.7 514.8 793.4 517.1 794.5 C519.4 795.6 521.5 796.8 524.1 796.8 C526.8 796.8 528.9 795.5 533.0 794.5 C537.1 793.5 543.8 791.6 548.8 790.5 C553.8 789.4 558.2 788.6 563.0 787.6 C567.8 786.6 571.7 785.4 577.8 784.7 C583.9 784.0 591.4 783.8 599.6 783.5 C607.9 783.2 621.4 782.9 627.3 783.1 C633.2 783.3 632.2 783.5 635.2 784.7 C638.2 786.0 641.1 787.6 645.1 790.6 C649.1 793.6 655.7 800.1 659.0 802.5 C662.3 804.9 662.6 804.2 664.9 805.0 C667.2 805.8 669.2 805.6 672.9 807.4 C676.6 809.2 684.7 814.3 687.1 815.7" fill="none" stroke="#ffff00" stroke-width="1"/>
<path d="M455.7 768.1 C458.0 768.5 465.6 769.7 469.6 770.3 C473.6 770.9 477.0 770.7 479.5 771.7 C482.0 772.8 482.5 774.1 484.5 776.6 C486.5 779.1 489.3 783.8 491.4 786.5 C493.5 789.2 495.1 792.4 497.3 793.1 C499.5 793.8 502.2 791.7 504.3 790.9 C506.4 790.1 508.1 787.9 510.2 788.1 C512.3 788.3 514.6 791.0 517.1 791.9 C519.6 792.8 521.7 793.5 525.0 793.5 C528.3 793.5 532.3 792.6 536.9 791.9 C541.5 791.2 548.1 790.1 552.8 789.5 C557.5 788.9 560.8 788.6 565.0 788.2 C569.2 787.8 572.0 787.2 577.8 787.2 C583.6 787.2 591.0 787.6 599.6 788.0 C608.2 788.4 623.0 788.9 629.3 789.6 C635.6 790.3 633.9 790.4 637.2 792.0 C640.5 793.6 644.8 796.7 649.1 799.5 C653.4 802.3 658.7 806.4 663.0 809.0 C667.3 811.6 670.9 812.6 674.9 815.3 C678.9 818.0 684.7 823.6 686.7 825.2" fill="none" stroke="#ffff00" stroke-width="1" stroke-dasharray="2 2"/>
<path d="M410.7 958.5 h2.4 M412.1 946.0 h1.0 M412.1 933.4 h1.0 M412.1 920.9 h1.0 M410.7 908.3 h2.4 M412.1 895.8 h1.0 M412.1 883.3 h1.0 M412.1 870.7 h1.0 M410.7 858.2 h2.4 M412.1 845.6 h1.0 M412.1 833.1 h1.0 M412.1 820.6 h1.0 M410.7 808.0 h2.4 M412.1 795.5 h1.0 M412.1 782.9 h1.0 M412.1 770.4 h1.0 M410.7 757.9 h2.4 M412.1 745.3 h1.0 M412.1 732.8 h1.0 M412.1 720.2 h1.0 M410.7 707.7 h2.4 M412.1 695.2 h1.0 M412.1 682.6 h1.0 M412.1 670.1 h1.0 M410.7 657.5 h2.4 M412.1 645.0 h1.0 M412.1 632.5 h1.0 M412.1 619.9 h1.0 M410.7 607.4 h2.4 M412.1 594.8 h1.0 M413.5 958.2 v2.0 M427.2 958.2 v1.0 M440.9 958.2 v1.0 M454.6 958.2 v1.0 M468.3 958.2 v1.0 M482.0 958.2 v2.0 M495.7 958.2 v1.0 M509.4 958.2 v1.0 M523.1 958.2 v1.0 M536.8 958.2 v1.0 M550.5 958.2 v2.0 M564.2 958.2 v1.0 M577.9 958.2 v1.0 M591.6 958.2 v1.0 M605.3 958.2 v1.0 M619.0 958.2 v2.0 M632.7 958.2 v1.0 M646.4 958.2 v1.0 M660.1 958.2 v1.0 M673.8 958.2 v1.0 M687.5 958.2 v2.0" stroke="#333" stroke-width="0.6" fill="none"/>
<path d="M413.5 957.85 V582.50 H687.5 V957.85" fill="none" stroke="#000" stroke-width="1" stroke-linecap="square"/>
<path d="M413.0 957.85 H688.0" fill="none" stroke="#000" stroke-width="0.60"/>
<text x="405.6" y="961.9" font-family="Liberation Serif, serif" font-weight="bold" stroke="#000" stroke-width="0.35" paint-order="stroke" font-size="12.3" text-anchor="end" textLength="5.9" lengthAdjust="spacingAndGlyphs">0</text>
<text x="405.6" y="911.9" font-family="Liberation Serif, serif" font-weight="bold" stroke="#000" stroke-width="0.35" paint-order="stroke" font-size="12.3" text-anchor="end" textLength="19.2" lengthAdjust="spacingAndGlyphs">200</text>
<text x="405.6" y="861.9" font-family="Liberation Serif, serif" font-weight="bold" stroke="#000" stroke-width="0.35" paint-order="stroke" font-size="12.3" text-anchor="end" textLength="19.2" lengthAdjust="spacingAndGlyphs">400</text>
<text x="405.6" y="811.9" font-family="Liberation Serif, serif" font-weight="bold" stroke="#000" stroke-width="0.35" paint-order="stroke" font-size="12.3" text-anchor="end" textLength="19.2" lengthAdjust="spacingAndGlyphs">600</text>
<text x="405.6" y="761.8" font-family="Liberation Serif, serif" font-weight="bold" stroke="#000" stroke-width="0.35" paint-order="stroke" font-size="12.3" text-anchor="end" textLength="19.2" lengthAdjust="spacingAndGlyphs">800</text>
<text x="405.6" y="711.8" font-family="Liberation Serif, serif" font-weight="bold" stroke="#000" stroke-width="0.35" paint-order="stroke" font-size="12.3" text-anchor="end" textLength="25.0" lengthAdjust="spacingAndGlyphs">1000</text>
<text x="405.6" y="661.8" font-family="Liberation Serif, serif" font-weight="bold" stroke="#000" stroke-width="0.35" paint-order="stroke" font-size="12.3" text-anchor="end" textLength="25.0" lengthAdjust="spacingAndGlyphs">1200</text>
<text x="405.6" y="611.8" font-family="Liberation Serif, serif" font-weight="bold" stroke="#000" stroke-width="0.35" paint-order="stroke" font-size="12.3" text-anchor="end" textLength="25.0" lengthAdjust="spacingAndGlyphs">1400</text>
<text x="413.8" y="969.5" font-family="Liberation Serif, serif" font-weight="bold" stroke="#000" stroke-width="0.35" paint-order="stroke" font-size="12.3" text-anchor="middle" textLength="5.9" lengthAdjust="spacingAndGlyphs">0</text>
<text x="482.3" y="969.5" font-family="Liberation Serif, serif" font-weight="bold" stroke="#000" stroke-width="0.35" paint-order="stroke" font-size="12.3" text-anchor="middle" textLength="19.2" lengthAdjust="spacingAndGlyphs">500</text>
<text x="550.8" y="969.5" font-family="Liberation Serif, serif" font-weight="bold" stroke="#000" stroke-width="0.35" paint-order="stroke" font-size="12.3" text-anchor="middle" textLength="25.6" lengthAdjust="spacingAndGlyphs">1000</text>
<text x="619.3" y="969.5" font-family="Liberation Serif, serif" font-weight="bold" stroke="#000" stroke-width="0.35" paint-order="stroke" font-size="12.3" text-anchor="middle" textLength="25.6" lengthAdjust="spacingAndGlyphs">1500</text>
<text x="687.8" y="969.5" font-family="Liberation Serif, serif" font-weight="bold" stroke="#000" stroke-width="0.35" paint-order="stroke" font-size="12.3" text-anchor="middle" textLength="25.6" lengthAdjust="spacingAndGlyphs">2000</text>
<text x="622.2" y="984.7" font-family="Liberation Serif, serif" font-weight="bold" stroke="#000" stroke-width="0.35" paint-order="stroke" font-size="12.3" textLength="11.7" lengthAdjust="spacingAndGlyphs">m</text>
<text x="634.3" y="988.6" font-family="Liberation Serif, serif" font-weight="bold" stroke="#000" stroke-width="0.35" paint-order="stroke" font-size="9.4" textLength="4.9" lengthAdjust="spacingAndGlyphs">0</text>
<text x="687.1" y="984.7" font-family="Liberation Serif, serif" font-weight="bold" stroke="#000" stroke-width="0.35" paint-order="stroke" font-size="12.3" text-anchor="end" textLength="40.2" lengthAdjust="spacingAndGlyphs">( GeV)</text>
<g transform="translate(374.8 581.9) rotate(-90)">
<text x="-62.0" y="0" font-family="Liberation Serif, serif" font-weight="bold" stroke="#000" stroke-width="0.35" paint-order="stroke" font-size="15.2" textLength="11.2" lengthAdjust="spacingAndGlyphs">m</text>
<text x="-50.0" y="4.4" font-family="Liberation Serif, serif" font-weight="bold" stroke="#000" stroke-width="0.35" paint-order="stroke" font-size="8.3" style="stroke-width:0.45" textLength="10.1" lengthAdjust="spacingAndGlyphs">1/2</text>
<text x="0" y="0" font-family="Liberation Serif, serif" font-weight="bold" stroke="#000" stroke-width="0.35" paint-order="stroke" font-size="15.2" text-anchor="end" textLength="33.0" lengthAdjust="spacingAndGlyphs">(GeV)</text>
</g>
<text x="427.0" y="732.6" font-family="Liberation Serif, serif" font-weight="bold" stroke="#000" stroke-width="0.35" paint-order="stroke" font-size="12.6" textLength="18.8" lengthAdjust="spacingAndGlyphs">TH</text>
<text x="441.6" y="940.9" font-family="Liberation Serif, serif" font-weight="bold" stroke="#000" stroke-width="0.35" paint-order="stroke" font-size="12.6" textLength="16.6" lengthAdjust="spacingAndGlyphs">EX</text>
<text x="619.4" y="632.5" font-family="Liberation Serif, serif" font-weight="bold" stroke="#000" stroke-width="0.35" paint-order="stroke" font-size="17" fill="#ffff00" style="stroke:#ffff00" textLength="13.8" lengthAdjust="spacingAndGlyphs">3l</text>
</g>
</svg>
</body></html>
